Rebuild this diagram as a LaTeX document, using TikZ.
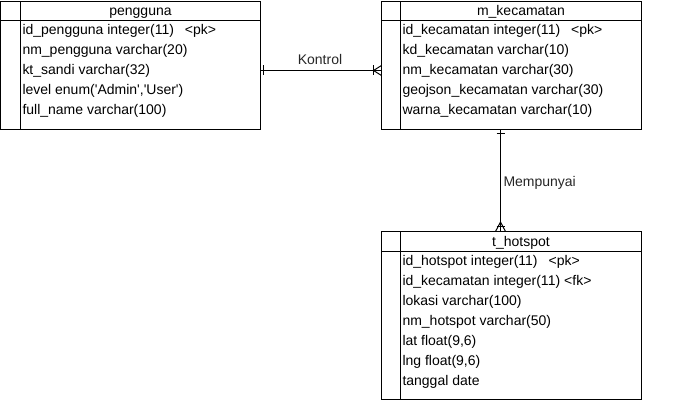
\documentclass[tikz,border=0pt]{standalone}
\usepackage{fontspec}
\setmainfont{Liberation Sans}
\begin{document}
\begin{tikzpicture}[x=1pt,y=-1pt,line width=1pt,
  tbl/.style={draw,minimum width=260pt,inner sep=0pt,outer sep=0pt,anchor=north west},
  rowtxt/.style={anchor=base west,inner sep=0pt,font=\fontsize{14}{16}\selectfont},
  hdrtxt/.style={anchor=base,inner sep=0pt,font=\fontsize{14}{16}\selectfont},
  reltxt/.style={inner sep=0pt,font=\fontsize{14}{16}\selectfont,text=black!85}]
\useasboundingbox (0,0) rectangle (691,401);
% tables
\node[tbl,minimum height=128pt] (peng) at (0.5,1.5) {};
\node[tbl,minimum height=128pt] (kec) at (381.5,1.5) {};
\node[tbl,minimum height=168pt] (hot) at (381.5,231.5) {};
% header separators and key columns
\draw (0.5,20.5) -- (260.5,20.5);
\draw (20.5,1.5) -- (20.5,129.5);
\draw (381.5,20.5) -- (641.5,20.5);
\draw (400.5,1.5) -- (400.5,129.5);
\draw (381.5,251.5) -- (641.5,251.5);
\draw (400.5,231.5) -- (400.5,399.5);
% headers
\node[hdrtxt] (pengh) at (140.5,16) {pengguna};
\node[hdrtxt] (kech) at (521,16) {m\_kecamatan};
\node[hdrtxt] (hoth) at (521,246) {t\_hotspot};
% pengguna rows
\node[rowtxt] (p1) at (22,35) {id\_pengguna integer(11)\hspace{11pt}<pk>};
\node[rowtxt] (p2) at (22,55) {nm\_pengguna varchar(20)};
\node[rowtxt] (p3) at (22,75) {kt\_sandi varchar(32)};
\node[rowtxt] (p4) at (22,95) {level enum(\textquotesingle Admin\textquotesingle,\textquotesingle User\textquotesingle)};
\node[rowtxt] (p5) at (22,115) {full\_name varchar(100)};
% kecamatan rows
\node[rowtxt] (k1) at (402,35) {id\_kecamatan integer(11)\hspace{11pt}<pk>};
\node[rowtxt] (k2) at (402,55) {kd\_kecamatan varchar(10)};
\node[rowtxt] (k3) at (402,75) {nm\_kecamatan varchar(30)};
\node[rowtxt] (k4) at (402,95) {geojson\_kecamatan varchar(30)};
\node[rowtxt] (k5) at (402,115) {warna\_kecamatan varchar(10)};
% hotspot rows
\node[rowtxt] (h1) at (402,265) {id\_hotspot integer(11)\hspace{11pt}<pk>};
\node[rowtxt] (h2) at (402,285) {id\_kecamatan integer(11)\hspace{4pt}<fk>};
\node[rowtxt] (h3) at (402,305) {lokasi varchar(100)};
\node[rowtxt] (h4) at (402,325) {nm\_hotspot varchar(50)};
\node[rowtxt] (h5) at (402,345) {lat float(9,6)};
\node[rowtxt] (h6) at (402,365) {lng float(9,6)};
\node[rowtxt] (h7) at (402,385) {tanggal date};
% relation Kontrol
\coordinate (ky) at (0,70.5);
\coordinate (vx) at (500.5,0);
\draw (peng.east |- ky) -- (kec.west |- ky);
\draw (263.5,65.5) -- (263.5,75.5);
\draw (373.5,65.5) -- (373.5,75.5);
\draw (381.5,65.5) -- (373.5,70.5) -- (381.5,75.5);
\node[reltxt,anchor=base] (kontrol) at (320,65) {Kontrol};
% relation Mempunyai
\draw (kec.south -| vx) -- (hot.north -| vx);
\draw (496.5,133.5) -- (504.5,133.5);
\draw (496.5,226.5) -- (504.5,226.5);
\draw (495.5,231.5) -- (500.5,222) -- (505.5,231.5);
\node[reltxt,anchor=base west] (mempunyai) at (503,186) {Mempunyai};
\end{tikzpicture}
\end{document}
